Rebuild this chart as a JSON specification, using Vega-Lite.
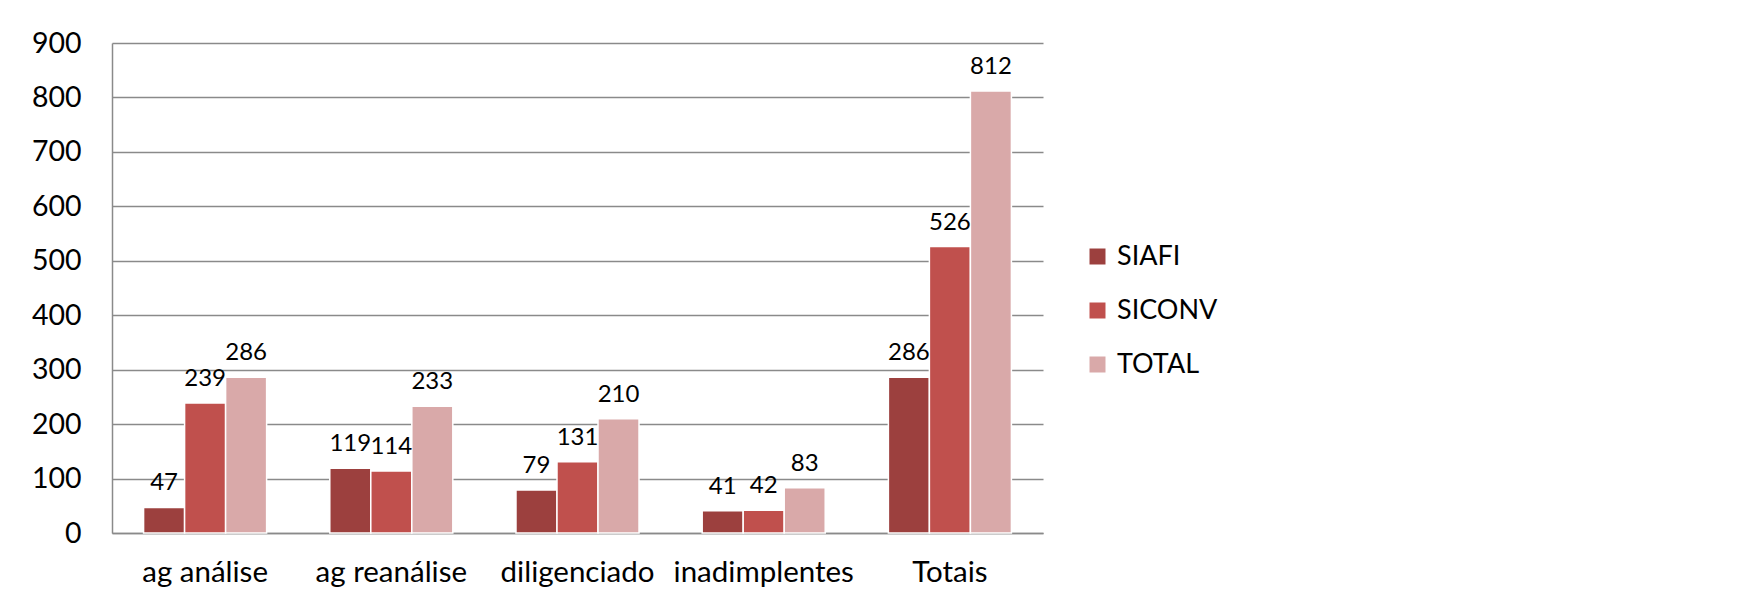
{
  "$schema": "https://vega.github.io/schema/vega-lite/v6.json",
  "width": 931,
  "height": 490,
  "autosize": {"type": "none"},
  "padding": {"left": 112, "top": 43, "right": 714, "bottom": 74},
  "background": "white",
  "config": {
    "font": "Lato",
    "view": {"stroke": null},
    "axis": {"labelFont": "Lato", "labelColor": "#000000"}
  },
  "data": {
    "values": [
      {"categoria": "ag análise", "serie": "SIAFI", "valor": 47},
      {"categoria": "ag análise", "serie": "SICONV", "valor": 239},
      {"categoria": "ag análise", "serie": "TOTAL", "valor": 286},
      {"categoria": "ag reanálise", "serie": "SIAFI", "valor": 119},
      {"categoria": "ag reanálise", "serie": "SICONV", "valor": 114},
      {"categoria": "ag reanálise", "serie": "TOTAL", "valor": 233},
      {"categoria": "diligenciado", "serie": "SIAFI", "valor": 79},
      {"categoria": "diligenciado", "serie": "SICONV", "valor": 131},
      {"categoria": "diligenciado", "serie": "TOTAL", "valor": 210},
      {"categoria": "inadimplentes", "serie": "SIAFI", "valor": 41},
      {"categoria": "inadimplentes", "serie": "SICONV", "valor": 42},
      {"categoria": "inadimplentes", "serie": "TOTAL", "valor": 83},
      {"categoria": "Totais", "serie": "SIAFI", "valor": 286},
      {"categoria": "Totais", "serie": "SICONV", "valor": 526},
      {"categoria": "Totais", "serie": "TOTAL", "valor": 812}
    ]
  },
  "encoding": {
    "x": {
      "field": "categoria",
      "type": "nominal",
      "sort": ["ag análise", "ag reanálise", "diligenciado", "inadimplentes", "Totais"],
      "scale": {"paddingInner": 0, "paddingOuter": 0},
      "axis": {
        "title": null,
        "labelAngle": 0,
        "labelFontSize": 29.5,
        "labelPadding": 25,
        "labelLimit": 0,
        "labelOverlap": false,
        "ticks": false,
        "domainColor": "#8a8a8a",
        "domainWidth": 1.5,
        "grid": false
      }
    },
    "xOffset": {
      "field": "serie",
      "type": "nominal",
      "sort": ["SIAFI", "SICONV", "TOTAL"],
      "scale": {"paddingInner": 0, "paddingOuter": 0.77}
    },
    "y": {
      "field": "valor",
      "type": "quantitative",
      "scale": {"domain": [0, 900], "nice": false},
      "axis": {
        "title": null,
        "values": [0, 100, 200, 300, 400, 500, 600, 700, 800, 900],
        "labelFontSize": 28.5,
        "labelPadding": 31,
        "ticks": false,
        "domainColor": "#8a8a8a",
        "domainWidth": 1.5,
        "gridColor": "#8a8a8a",
        "gridWidth": 1.5
      }
    }
  },
  "layer": [
    {
      "mark": {"type": "bar", "stroke": "white", "strokeWidth": 1.5},
      "encoding": {
        "color": {
          "field": "serie",
          "type": "nominal",
          "sort": ["SIAFI", "SICONV", "TOTAL"],
          "scale": {"domain": ["SIAFI", "SICONV", "TOTAL"], "range": ["#9c403e", "#c0504d", "#d9a9a9"]},
          "legend": {
            "title": null,
            "orient": "none",
            "legendX": 972,
            "legendY": 200,
            "symbolType": "square",
            "symbolSize": 256,
            "symbolStrokeWidth": 0,
            "labelFontSize": 27,
            "labelFont": "Lato",
            "labelColor": "#000000",
            "labelOffset": 6,
            "rowPadding": 26
          }
        }
      }
    },
    {
      "mark": {"type": "text", "fontSize": 24, "font": "Lato", "color": "#000000", "baseline": "alphabetic", "dy": -17},
      "encoding": {
        "text": {"field": "valor", "type": "quantitative"}
      }
    }
  ]
}
